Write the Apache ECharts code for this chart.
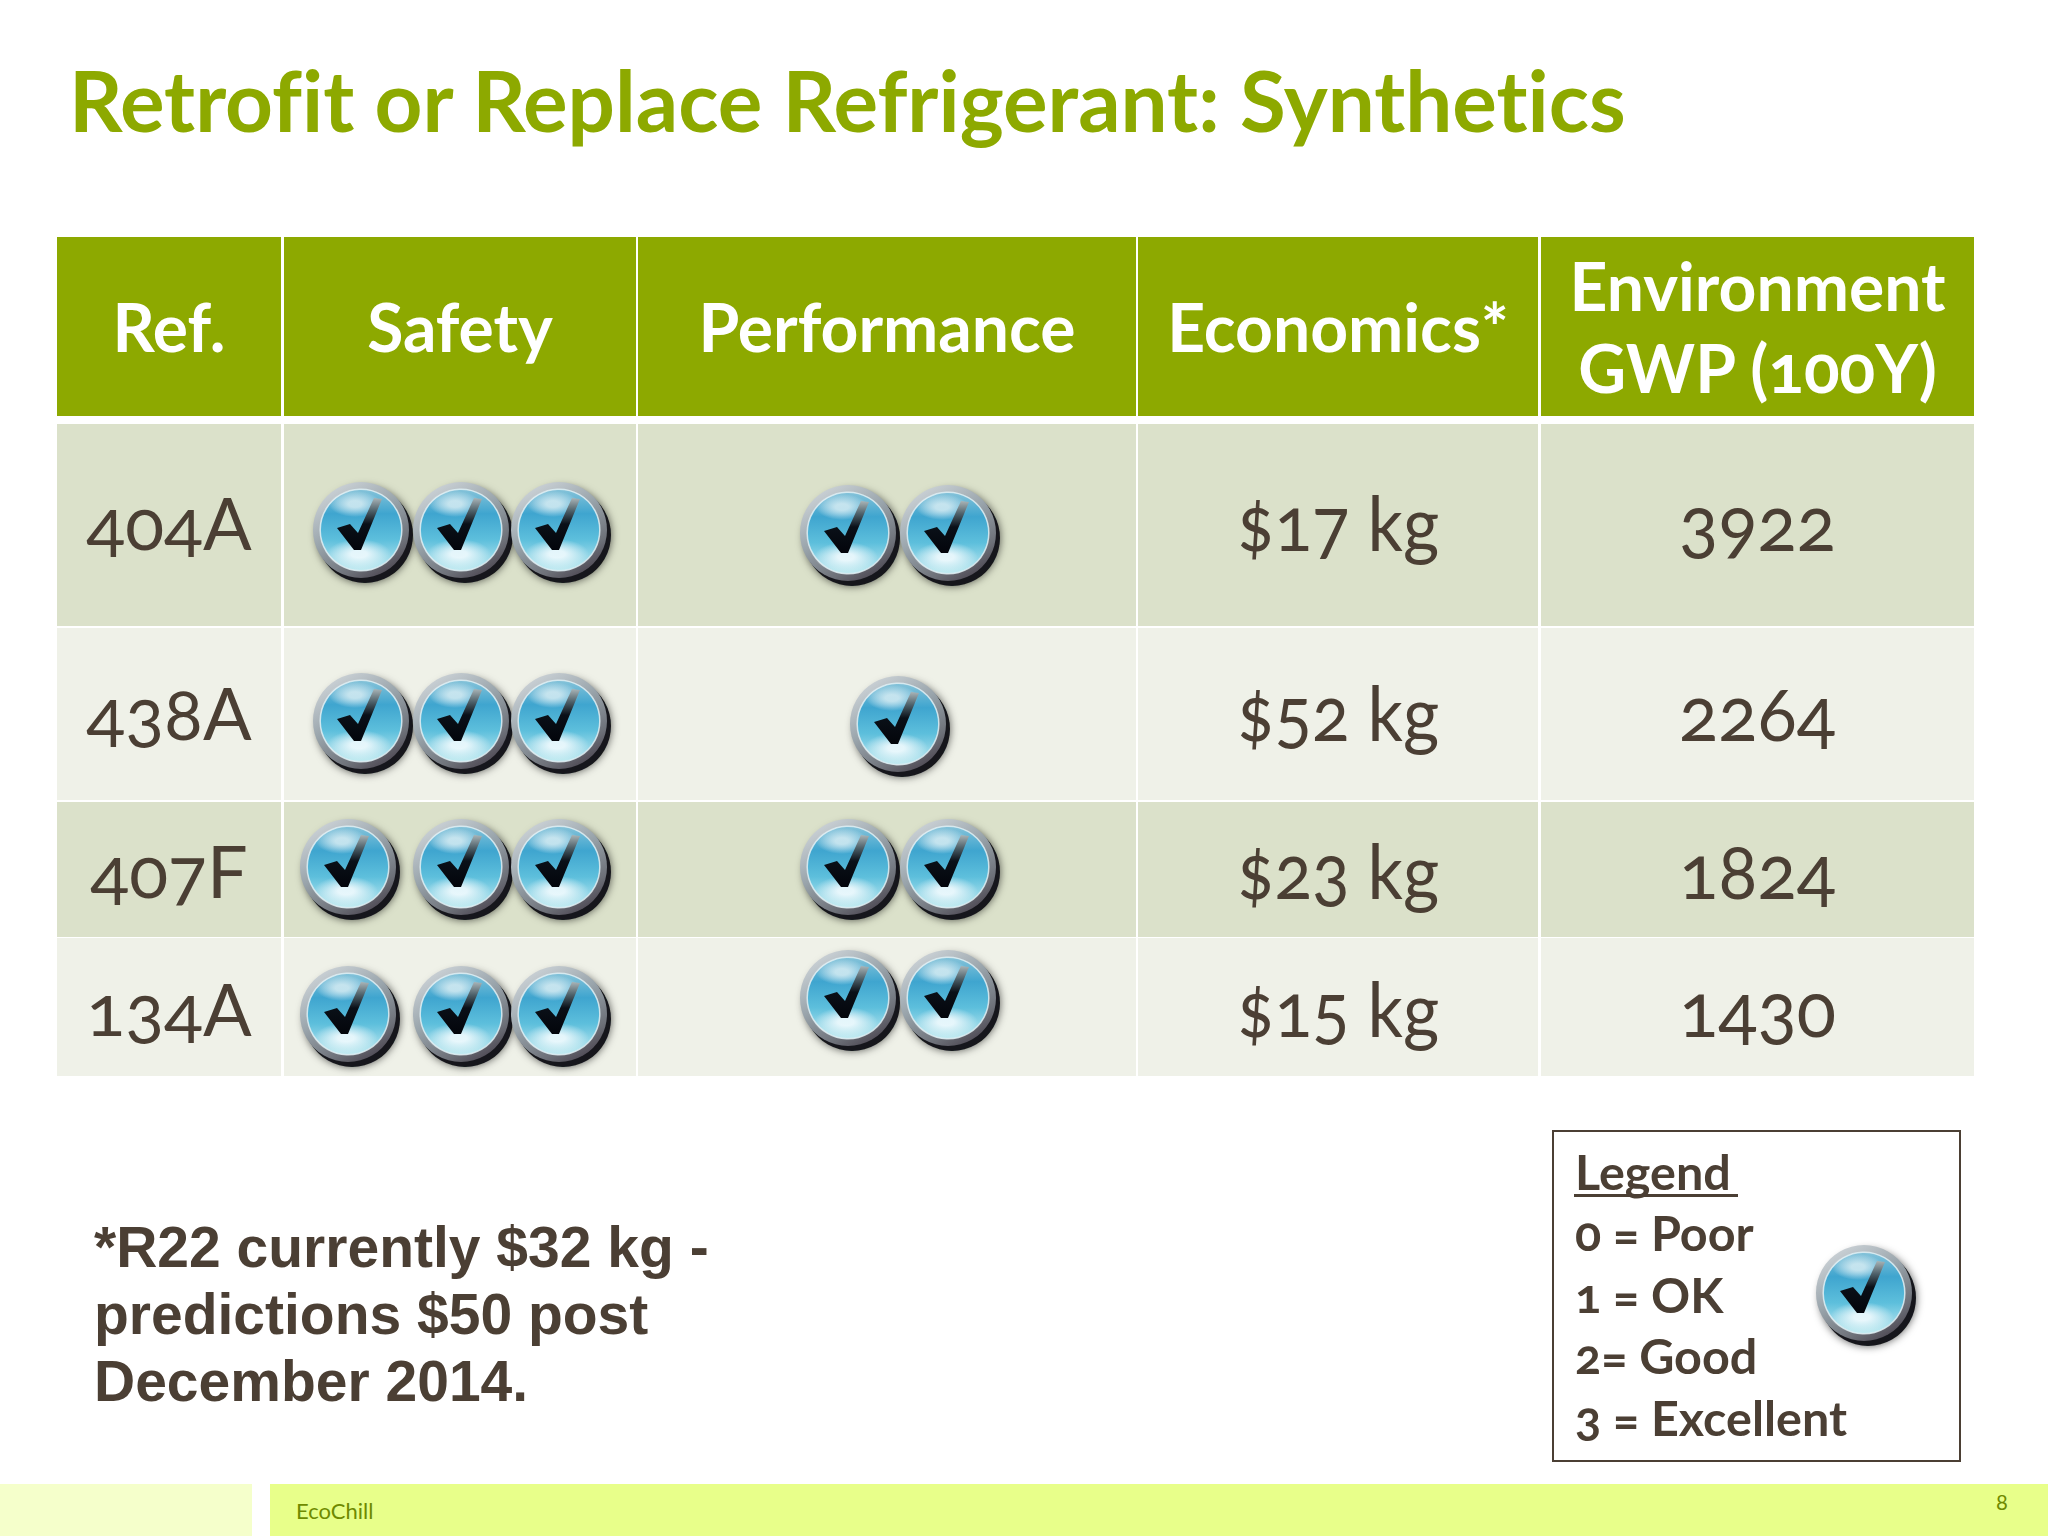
<!DOCTYPE html>
<html>
<head>
<meta charset="utf-8">
<script src="https://cdn.jsdelivr.net/npm/echarts@6/dist/echarts.min.js"></script>
<style>
  html, body { margin: 0; background: #fff; }
  #chart { width: 2048px; height: 1536px; }
  /* old-style figures like the slide font, no fi/ti ligatures */
  #chart text { font-feature-settings: "onum" 1, "liga" 0, "dlig" 0, "clig" 0 !important; font-variant-numeric: oldstyle-nums !important; font-variant-ligatures: none !important; }
</style>
</head>
<body>
<div id="chart"></div>
<script>
// values
const titleText = 'Retrofit or Replace Refrigerant: Synthetics'
const headers = ['Ref.', 'Safety', 'Performance', 'Economics*', 'Environment\nGWP (100Y)']
const refrigerants = ['404A', '438A', '407F', '134A']
const safety = [3, 3, 3, 3]
const performance = [2, 1, 2, 2]
const pricePerKg = [17, 52, 23, 15]
const gwp = [3922, 2264, 1824, 1430]
const footnote = ['*R22 currently $32 kg -', 'predictions $50 post', 'December 2014.']
const legendLines = ['Legend', '0 = Poor', '1 = OK', '2= Good', '3 = Excellent']

// table layout, in slide pixels
const colEdges = [[57, 281], [284, 636], [638, 1136], [1138, 1538], [1541, 1974]]
const rowEdges = [[237, 416], [424, 626], [628, 800], [802, 937], [938, 1076]]
const textY = [519, 522, 712, 870, 1008]
const colFontSize = [72, 0, 0, 75, 75]
const colScaleX = [1, 1, 1, 0.93, 0.97]
const safetyX = [[361, 461, 559], [361, 461, 559], [348, 461, 559], [348, 461, 559]]
const performanceX = { 1: [898], 2: [848, 948] }
const safetyY = [530, 721, 867, 1014]
const performanceY = [533, 724, 867, 998]

const GREEN = '#8da900', BROWN = '#4b3f34'
const FONT = 'Lato'

function iconChildren(r) {
  const k = r / 48
  const glow = (color) => new echarts.graphic.RadialGradient(0.5, 0.5, 0.5, [
    { offset: 0, color: color }, { offset: 0.25, color: color }, { offset: 1, color: 'rgba(255,255,255,0)' }])
  return [
    { type: 'circle', shape: { cx: 4 * k, cy: 5 * k, r: r }, style: { fill: '#14161a', shadowBlur: 8, shadowColor: 'rgba(0,0,0,0.65)' } },
    { type: 'circle', shape: { cx: 0, cy: 0, r: r }, style: { fill: new echarts.graphic.LinearGradient(0.15, 0, 0.75, 1, [
      { offset: 0, color: '#d3d9dd' }, { offset: 0.45, color: '#99a4ab' }, { offset: 0.8, color: '#6d7078' }, { offset: 1, color: '#4a444f' }]) } },
    { type: 'circle', shape: { cx: 0, cy: 0, r: r * 0.85 }, style: { stroke: 'rgba(225,240,244,0.85)', lineWidth: 1.5 * k, fill: new echarts.graphic.LinearGradient(0, 0, 0, 1, [
      { offset: 0, color: '#86c3d9' }, { offset: 0.3, color: '#3fa5cf' }, { offset: 0.62, color: '#5dbfdc' }, { offset: 1, color: '#c5ecf2' }]) } },
    { type: 'ellipse', shape: { cx: -6 * k, cy: -26 * k, rx: 26 * k, ry: 13 * k }, style: { fill: glow('rgba(222,240,245,0.8)') } },
    { type: 'ellipse', shape: { cx: -2 * k, cy: 24 * k, rx: 32 * k, ry: 15 * k }, style: { fill: glow('rgba(245,252,255,0.85)') } },
    { type: 'polygon', shape: { points: [[-24, -2], [-11, -6], [-3, 3], [13, -32], [21, -31], [0, 20], [-7, 20]].map(p => [p[0] * k, p[1] * k]) },
      style: { fill: new echarts.graphic.LinearGradient(0, 1, 0, 0, [
        { offset: 0, color: '#03050b' }, { offset: 0.5, color: '#0a1018' }, { offset: 0.75, color: '#4d6069' }, { offset: 1, color: '#a9b4b7' }]) } }
  ]
}

// cell list: [col, row]
const cells = []
rowEdges.forEach((r, ri) => colEdges.forEach((c, ci) => cells.push([ci, ri])))

// text list: [col, row, text]
const cellTexts = []
headers.forEach((h, ci) => cellTexts.push([ci, 0, h]))
refrigerants.forEach((name, ri) => {
  cellTexts.push([0, ri + 1, name])
  cellTexts.push([3, ri + 1, '$' + pricePerKg[ri] + ' kg'])
  cellTexts.push([4, ri + 1, String(gwp[ri])])
})

// icon list: one per rating point
const icons = []
safety.forEach((n, ri) => { for (let i = 0; i < n; i++) icons.push([safetyX[ri][i], safetyY[ri]]) })
performance.forEach((n, ri) => { for (let i = 0; i < n; i++) icons.push([performanceX[n][i], performanceY[ri]]) })

const myChart = echarts.init(document.getElementById('chart'), null, { renderer: 'svg' })

myChart.setOption({
  animation: false,
  backgroundColor: '#fff',
  title: {
    text: titleText, left: 64, top: 53,
    textStyle: { color: GREEN, fontFamily: FONT, fontWeight: 'bold', fontSize: 83.5 }
  },
  grid: { left: 0, top: 0, width: 2048, height: 1536 },
  xAxis: { type: 'value', min: 0, max: 2048, show: false },
  yAxis: { type: 'value', min: 0, max: 1536, inverse: true, show: false },
  graphic: [
    { type: 'rect', shape: { x: 0, y: 1484, width: 252, height: 52 }, style: { fill: '#f5ffcb' } },
    { type: 'rect', shape: { x: 270, y: 1484, width: 1778, height: 52 }, style: { fill: '#e8ff8a' } },
    { type: 'text', x: 296, y: 1499, style: { text: 'EcoChill', fill: '#6f8a00', fontFamily: FONT, fontSize: 22 } },
    { type: 'text', x: 1996, y: 1490, style: { text: '8', fill: '#6f8a00', fontFamily: FONT, fontSize: 22 } },
    { type: 'rect', shape: { x: 1553, y: 1131, width: 407, height: 330 }, style: { fill: '#fff', stroke: BROWN, lineWidth: 2 } },
    { type: 'group', x: 1864, y: 1293, z: 10, children: iconChildren(48) },
    { type: 'rect', shape: { x: 1574, y: 1194, width: 164, height: 3 }, style: { fill: BROWN } }
  ].concat(
    legendLines.map((t, i) => ({
      type: 'text', x: 1575, y: 1146 + i * 61.5,
      style: { text: t, fill: BROWN, fontFamily: FONT, fontWeight: 'bold', fontSize: 48.5 }
    })),
    footnote.map((t, i) => ({
      type: 'text', x: 94, y: 1218 + i * 67,
      style: { text: t, fill: BROWN, fontFamily: 'Liberation Sans', fontWeight: 'bold', fontSize: 57 }
    }))
  ),
  series: [
    {
      type: 'custom', coordinateSystem: 'cartesian2d', clip: false, silent: true,
      data: cells,
      renderItem: function (params, api) {
        const ci = api.value(0), ri = api.value(1)
        const a = api.coord([colEdges[ci][0], rowEdges[ri][0]])
        const b = api.coord([colEdges[ci][1], rowEdges[ri][1]])
        const fill = ri === 0 ? GREEN : (ri % 2 ? '#dbe1ca' : '#eff1e8')
        return { type: 'rect', shape: { x: a[0], y: a[1], width: b[0] - a[0], height: b[1] - a[1] }, style: { fill: fill } }
      }
    },
    {
      type: 'custom', coordinateSystem: 'cartesian2d', clip: false, silent: true, z: 3,
      data: cellTexts.map(d => [d[0], d[1]]),
      renderItem: function (params, api) {
        const ci = api.value(0), ri = api.value(1)
        const p = api.coord([(colEdges[ci][0] + colEdges[ci][1]) / 2, ri === 0 ? 326 : textY[ri]])
        return {
          type: 'text', x: p[0], y: p[1], scaleX: ri === 0 ? 1 : colScaleX[ci],
          style: {
            text: cellTexts[params.dataIndex][2], textAlign: 'center', textVerticalAlign: 'middle',
            fill: ri === 0 ? '#fff' : BROWN, fontFamily: FONT, fontWeight: ri === 0 ? 'bold' : 'normal',
            fontSize: ri === 0 ? 66 : colFontSize[ci], lineHeight: 82
          }
        }
      }
    },
    {
      type: 'custom', coordinateSystem: 'cartesian2d', clip: false, silent: true, z: 4,
      data: icons,
      renderItem: function (params, api) {
        const p = api.coord([api.value(0), api.value(1)])
        return { type: 'group', x: p[0], y: p[1], children: iconChildren(48) }
      }
    }
  ]
})
</script>
</body>
</html>
